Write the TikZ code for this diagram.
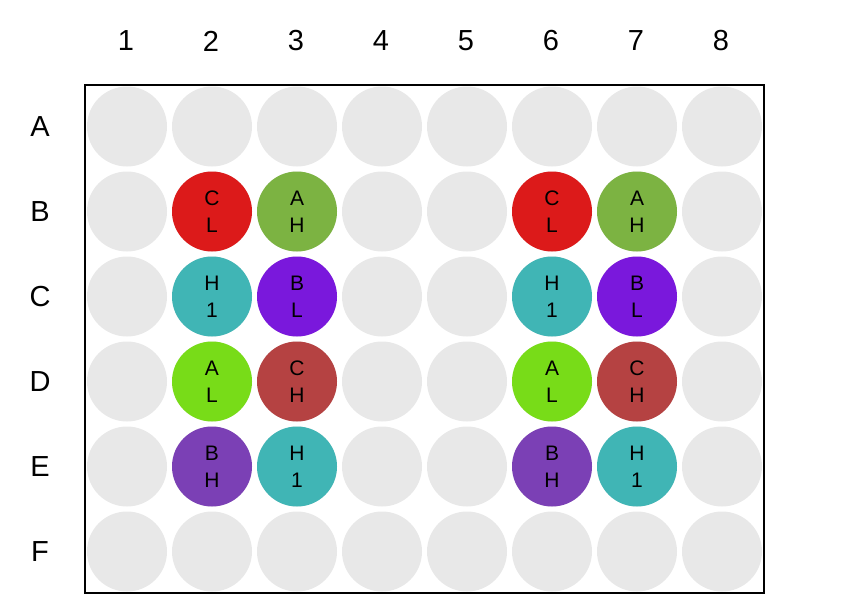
\documentclass[tikz,border=0pt]{standalone}
\usepackage{fontspec}
\setmainfont{Liberation Sans}
\usepackage{tikz}
\usetikzlibrary{positioning,fit}
\definecolor{wellgray}{HTML}{E8E8E8}
\definecolor{redL}{HTML}{DC1A1A}
\definecolor{greenH}{HTML}{7CB342}
\definecolor{tealH}{HTML}{40B5B5}
\definecolor{violetL}{HTML}{7A18DC}
\definecolor{limeL}{HTML}{78DC18}
\definecolor{redH}{HTML}{B54242}
\definecolor{violetH}{HTML}{7B40B5}
\tikzset{
  well/.style={circle,fill=wellgray,minimum size=80pt,inner sep=0pt},
  sample/.style={circle,minimum size=80pt,inner sep=0pt,align=center,
                 font=\fontsize{21}{27}\selectfont},
  axislabel/.style={font=\fontsize{29}{33}\selectfont},
  plate/.style={draw=black,line width=1.8pt,inner sep=1.5pt},
}
\begin{document}
\begin{tikzpicture}[x=1pt,y=-1pt]
  \useasboundingbox (0,0) rectangle (846,614);
  % column and row labels
  \foreach \c in {1,...,8}
    \node[axislabel] (col\c) at ({41+85*\c},41) {\c};
  \foreach \r [count=\i] in {A,B,C,D,E,F}
    \node[axislabel] (row\r) at (40,{41.5+85*\i}) {\r};

  % empty wells
  \foreach \r [count=\i] in {A,B,C,D,E,F}
    \foreach \c in {1,...,8}
      \node[well] (w\r\c) at ({42+85*\c},{41.5+85*\i}) {};
  \node[plate,fit=(wA1)(wF8)] (plate) {};

  % filled wells
  \foreach \c in {2,6}{
    \node[sample,fill=redL]    (sB\c) at (wB\c) {C\\L};
    \node[sample,fill=tealH]   (sC\c) at (wC\c) {H\\1};
    \node[sample,fill=limeL]   (sD\c) at (wD\c) {A\\L};
    \node[sample,fill=violetH] (sE\c) at (wE\c) {B\\H};
  }
  \foreach \c in {3,7}{
    \node[sample,fill=greenH]  (sB\c) at (wB\c) {A\\H};
    \node[sample,fill=violetL] (sC\c) at (wC\c) {B\\L};
    \node[sample,fill=redH]    (sD\c) at (wD\c) {C\\H};
    \node[sample,fill=tealH]   (sE\c) at (wE\c) {H\\1};
  }
\end{tikzpicture}
\end{document}
